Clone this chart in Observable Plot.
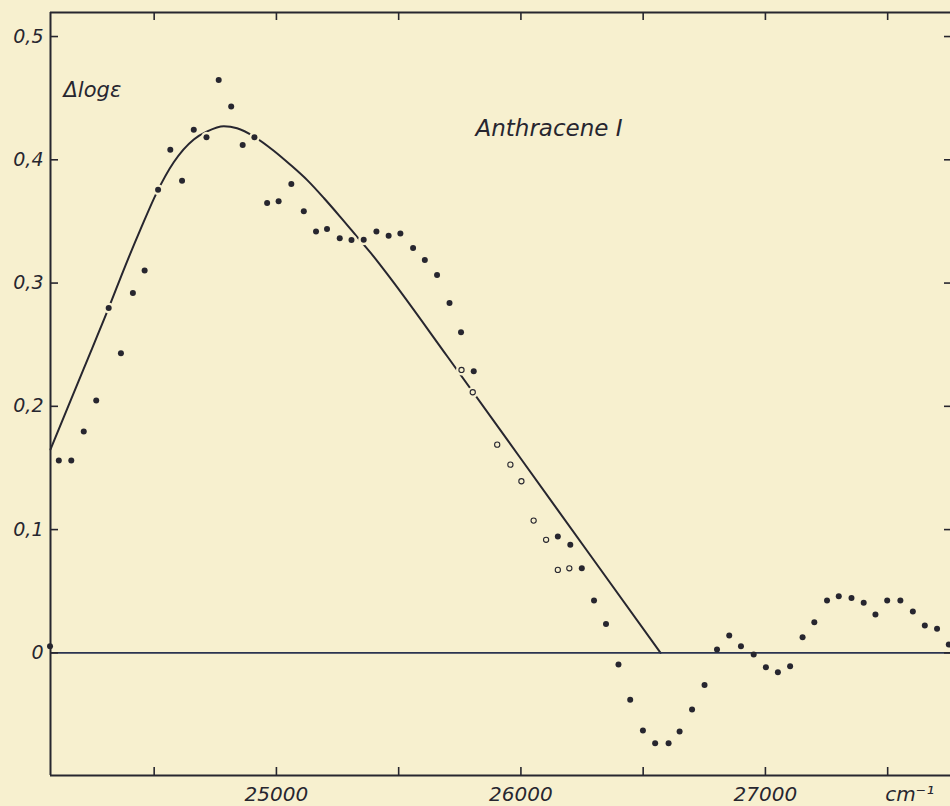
<!DOCTYPE html>
<html><head><meta charset="utf-8">
<script src="https://cdn.jsdelivr.net/npm/d3@7"></script>
<script src="https://cdn.jsdelivr.net/npm/@observablehq/plot@0.6"></script>
<style>
html,body{margin:0;padding:0;background:#f7f0cf;}
#chart svg{display:block;}
</style></head><body><div id="chart"></div>
<script>
// Measured points (wavenumber in cm^-1, Δlogε)
const filledWavenumber = [24074, 24110, 24161, 24212, 24263, 24314, 24364, 24413, 24461, 24516, 24566, 24614, 24662, 24714, 24764, 24815, 24862, 24910, 24962, 25009, 25061, 25112, 25162, 25207, 25259, 25307, 25357, 25409, 25459, 25507, 25559, 25607, 25657, 25708, 25755, 25807, 26151, 26202, 26249, 26299, 26348, 26399, 26447, 26499, 26549, 26604, 26649, 26700, 26751, 26802, 26852, 26900, 26952, 27002, 27051, 27101, 27152, 27200, 27252, 27300, 27352, 27402, 27450, 27498, 27552, 27603, 27652, 27702, 27750];
const filledDelta = [0.0054, 0.156, 0.156, 0.1795, 0.2047, 0.2798, 0.2430, 0.2920, 0.3101, 0.3758, 0.4082, 0.3831, 0.4244, 0.4182, 0.4647, 0.4433, 0.4120, 0.4182, 0.3650, 0.3663, 0.3804, 0.3582, 0.3419, 0.3439, 0.3363, 0.3350, 0.3352, 0.3419, 0.3384, 0.3403, 0.3285, 0.3187, 0.3066, 0.2839, 0.2600, 0.2284, 0.0943, 0.0876, 0.0686, 0.0424, 0.0235, -0.0095, -0.0381, -0.0630, -0.0733, -0.0733, -0.0638, -0.0460, -0.0260, 0.0027, 0.0140, 0.0054, -0.0014, -0.0117, -0.0157, -0.0109, 0.0127, 0.0248, 0.0424, 0.0459, 0.0446, 0.0406, 0.0311, 0.0424, 0.0424, 0.0335, 0.0221, 0.0195, 0.0067];
const openWavenumber = [25757, 25803, 25903, 25957, 26002, 26052, 26103, 26151, 26198];
const openDelta = [0.2295, 0.2114, 0.1689, 0.1527, 0.1392, 0.1073, 0.0917, 0.0673, 0.0686];
// Drawn smooth curve
const curveWavenumber = [24076, 24212, 24314, 24382, 24444, 24512, 24580, 24662, 24717, 24785, 24839, 24910, 24989, 25057, 25126, 25194, 25262, 25330, 25398, 25466, 25700, 26000, 26300, 26571];
const curveDelta = [0.165, 0.2306, 0.2798, 0.3140, 0.3435, 0.3740, 0.3980, 0.4165, 0.4230, 0.4272, 0.4256, 0.4187, 0.4074, 0.3960, 0.3835, 0.3690, 0.3535, 0.3375, 0.3215, 0.3040, 0.2402, 0.1575, 0.0747, 0];
// Axes
const xLabelTicks = [25000, 26000, 27000];
const xAllTicks = [24500, 25000, 25500, 26000, 26500, 27000, 27500];
const yTicks = [0, 0.1, 0.2, 0.3, 0.4, 0.5];
const xDomain = [24076, 27757];
const yDomain = [-0.0995, 0.5195];
const yAxisTitle = ["Δlogε"];
const seriesLabel = ["Anthracene I"];
const unitLabel = ["cm⁻¹"];
const unitTick = 27500;

const W = 950, H = 806, mT = 12, mB = 31, mL = 50, mR = 0;
const fw = W - mL - mR, fh = H - mT - mB;
const ink = "#27262f";
const zeroInk = "#2b3450";
const bg = "#f7f0cf";
const font = "'DejaVu Sans', 'Liberation Sans', sans-serif";

const filled = filledWavenumber.map((x, i) => ({x, y: filledDelta[i]}));
const open = openWavenumber.map((x, i) => ({x, y: openDelta[i]}));
const curve = curveWavenumber.map((x, i) => ({x, y: curveDelta[i]}));
const fmtY = d => d === 0 ? "0" : d.toFixed(1).replace(".", ",");

const chart = Plot.plot({
  width: W, height: H,
  marginTop: mT, marginBottom: mB, marginLeft: mL, marginRight: mR,
  style: {background: bg, fontFamily: font, fontStyle: "italic", color: ink, overflow: "visible"},
  x: {domain: xDomain, label: null},
  y: {domain: yDomain, label: null},
  marks: [
    Plot.line(curve, {x: "x", y: "y", curve: "monotone-x", stroke: ink, strokeWidth: 2}),
    Plot.dot([...filled, ...open], {x: "x", y: "y", r: 5.5, fill: bg, stroke: null}),
    Plot.ruleY([0], {stroke: zeroInk, strokeWidth: 1.6}),
    Plot.dot(filled, {x: "x", y: "y", r: 3, fill: ink, stroke: null}),
    Plot.dot(open, {x: "x", y: "y", r: 2.6, fill: bg, stroke: ink, strokeWidth: 1.1}),
    // frame
    Plot.ruleY(yDomain, {stroke: ink, strokeWidth: 2}),
    Plot.ruleX([xDomain[0]], {stroke: ink, strokeWidth: 2}),
    // inward ticks
    Plot.tickX(xAllTicks, {x: d => d, insetTop: fh - 8, stroke: ink, strokeWidth: 1.6}),
    Plot.tickX(xAllTicks, {x: d => d, insetBottom: fh - 8, stroke: ink, strokeWidth: 1.6}),
    Plot.tickY(yTicks, {y: d => d, insetRight: fw - 8, stroke: ink, strokeWidth: 1.6}),
    Plot.tickY(yTicks, {y: d => d, insetLeft: fw - 6, stroke: ink, strokeWidth: 1.6}),
    // tick labels
    Plot.axisY(yTicks, {anchor: "left", label: null, tickSize: 0, tickPadding: 7, tickFormat: fmtY, fontSize: 19, fontStyle: "italic", fill: ink}),
    Plot.axisX(xLabelTicks, {anchor: "bottom", label: null, tickSize: 0, tickPadding: 11, tickFormat: d => String(d), fontSize: 20, fontStyle: "italic", fill: ink}),
    Plot.text(unitLabel, {text: d => d, x: unitTick, frameAnchor: "bottom", dx: 22, dy: 11, lineAnchor: "top", fontSize: 20, fontStyle: "italic", fill: ink}),
    Plot.text(yAxisTitle, {text: d => d, frameAnchor: "top-left", dx: 13, dy: 78, textAnchor: "start", lineAnchor: "middle", fontSize: 21, fontStyle: "italic", fill: ink}),
    Plot.text(seriesLabel, {text: d => d, frameAnchor: "top-left", dx: 425, dy: 116, textAnchor: "start", lineAnchor: "middle", fontSize: 23, fontStyle: "italic", fill: ink})
  ]
});
document.getElementById("chart").appendChild(chart);
</script>
</body></html>
